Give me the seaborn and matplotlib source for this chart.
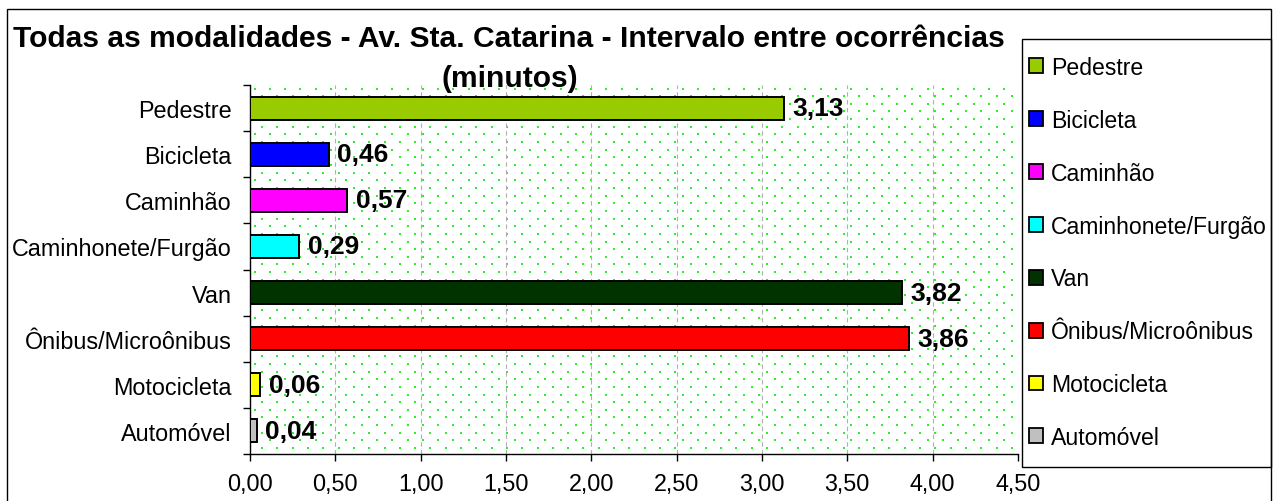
import numpy as np
import pandas as pd
import seaborn as sns
from matplotlib import pyplot as plt
from matplotlib.patches import Rectangle
from matplotlib.ticker import FuncFormatter

plt.rcParams['font.family'] = ['Liberation Sans', 'DejaVu Sans']

modalidades = ["Pedestre", "Bicicleta", "Caminhão", "Caminhonete/Furgão",
               "Van", "Ônibus/Microônibus", "Motocicleta", "Automóvel"]
intervalos = [3.13, 0.46, 0.57, 0.29, 3.82, 3.86, 0.06, 0.04]
cores = ["#99CC00", "#0000FF", "#FF00FF", "#00FFFF",
         "#003300", "#FF0000", "#FFFF00", "#C0C0C0"]
xticks = [0.0, 0.5, 1.0, 1.5, 2.0, 2.5, 3.0, 3.5, 4.0, 4.5]

df = pd.DataFrame({"Modalidade": modalidades, "Intervalo": intervalos})

W, H = 1278, 502
fig = plt.figure(figsize=(W / 100, H / 100), dpi=100)
ax = fig.add_axes([250 / W, 47 / H, 768 / W, 369 / H])

# textura pontilhada verde do fundo (estilo excel)
tw, th = 768, 369
tex = np.ones((th, tw, 3))
for i, yy in enumerate(np.arange(3, th - 1, 7.65)):
    x0 = 4 + (7.65 if i % 2 else 0)
    for xx in np.arange(x0, tw - 1, 15.3):
        tex[int(yy):int(yy) + 2, int(xx):int(xx) + 2] = [0.15, 0.95, 0.15]
fig.figimage(tex, xo=250, yo=47, zorder=-1)
ax.patch.set_facecolor('none')

sns.barplot(data=df, x="Intervalo", y="Modalidade", hue="Modalidade",
            palette=cores, orient="h", width=0.5, saturation=1,
            edgecolor="black", linewidth=1.4, legend=True, ax=ax, zorder=3)

for c in ax.containers:
    ax.bar_label(c, labels=[f"{v:.2f}".replace(".", ",") for v in c.datavalues],
                 padding=6, fontsize=19, fontweight="bold")

ax.set_xlim(0, 4.5)
ax.set_ylim(7.5, -0.5)
ax.set_xticks(xticks)
ax.xaxis.set_major_formatter(FuncFormatter(lambda v, p: f"{v:.2f}".replace(".", ",")))
ax.set_yticks(np.arange(-0.5, 8, 1), minor=True)
ax.tick_params(axis="y", which="major", length=0, pad=13, labelsize=16.8)
ax.tick_params(axis="y", which="minor", length=5, width=1, color="black")
ax.tick_params(axis="x", length=5, width=1, pad=8, labelsize=16.8)
ax.set_xlabel("")
ax.set_ylabel("")

ax.xaxis.grid(True, color="#b0b0b0", linestyle=(0, (4, 3)), linewidth=0.8)
ax.set_axisbelow(True)
for s in ["top", "right"]:
    ax.spines[s].set_visible(False)
for s in ["left", "bottom"]:
    ax.spines[s].set_color("black")
    ax.spines[s].set_linewidth(1)

handles, labels = ax.get_legend_handles_labels()
leg = ax.legend(handles, labels, loc="upper left",
                bbox_to_anchor=(1029 / W, 1 - 57 / H), bbox_transform=fig.transFigure,
                frameon=False, fontsize=16.6, labelspacing=1.295,
                handlelength=0.62, handleheight=0.62, handletextpad=0.35,
                borderaxespad=0, borderpad=0)
for h in leg.legend_handles:
    h.set_edgecolor("black")
    h.set_linewidth(1.3)

# caixa da legenda e borda externa
fig.patches.append(Rectangle((1022 / W, 1 - 468 / H), 249 / W, 428 / H,
                             transform=fig.transFigure, fill=False,
                             edgecolor="black", linewidth=1))
fig.patches.append(Rectangle((7 / W, -0.01), 1264 / W, 1 - 10 / H + 0.01,
                             transform=fig.transFigure, fill=False,
                             edgecolor="black", linewidth=1))

fig.text(509 / W, 1 - 47 / H,
         "Todas as modalidades - Av. Sta. Catarina - Intervalo entre ocorrências",
         ha="center", va="baseline", fontsize=21.6, fontweight="bold")
fig.text(510 / W, 1 - 87 / H, "(minutos)",
         ha="center", va="baseline", fontsize=21.6, fontweight="bold")

fig.savefig("out.png", dpi=100)
